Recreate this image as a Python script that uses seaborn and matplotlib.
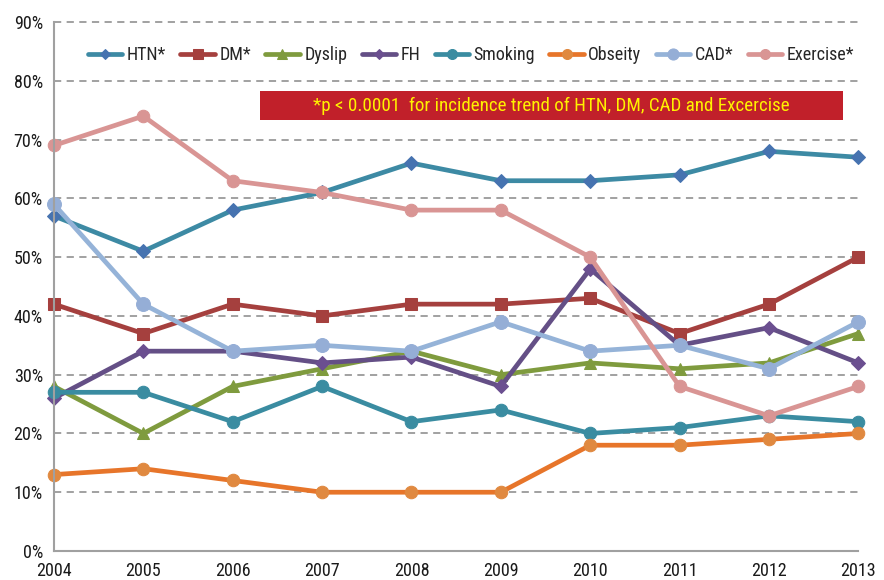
import matplotlib
matplotlib.use("Agg")
import matplotlib.pyplot as plt
import seaborn as sns
import pandas as pd
from matplotlib.patches import Rectangle
from matplotlib import font_manager

years = [2004, 2005, 2006, 2007, 2008, 2009, 2010, 2011, 2012, 2013]
htn = [57, 51, 58, 61, 66, 63, 63, 64, 68, 67]
dm = [42, 37, 42, 40, 42, 42, 43, 37, 42, 50]
dyslip = [28, 20, 28, 31, 34, 30, 32, 31, 32, 37]
fh = [26, 34, 34, 32, 33, 28, 48, 35, 38, 32]
smoking = [27, 27, 22, 28, 22, 24, 20, 21, 23, 22]
obesity = [13, 14, 12, 10, 10, 10, 18, 18, 19, 20]
cad = [59, 42, 34, 35, 34, 39, 34, 35, 31, 39]
exercise = [69, 74, 63, 61, 58, 58, 50, 28, 23, 28]
series_names = ["HTN*", "DM*", "Dyslip", "FH", "Smoking", "Obseity", "CAD*", "Exercise*"]
y_ticks = [0, 10, 20, 30, 40, 50, 60, 70, 80, 90]
note = "*p < 0.0001  for incidence trend of HTN, DM, CAD and Excercise"

sns.set_style("white")
fl = font_manager.fontManager.ttflist
names = {f.name for f in fl}
stretch = "normal"
fam = None
for cand in ["Liberation Sans Narrow", "Roboto Condensed", "Open Sans Condensed", "DejaVu Sans Condensed"]:
    if cand in names:
        fam = cand
        break
if fam is None:
    if any(f.name == "DejaVu Sans" and str(f.stretch) in ("condensed", "semi-condensed") for f in fl):
        fam = "DejaVu Sans"
        stretch = "condensed"
    else:
        fam = "Roboto"
plt.rcParams['font.family'] = [fam, 'DejaVu Sans']
plt.rcParams['font.stretch'] = stretch
fs = 13 if fam != "Roboto" else 12

values = [htn, dm, dyslip, fh, smoking, obesity, cad, exercise]
rows = []
for n, v in zip(series_names, values):
    for yr, val in zip(years, v):
        rows.append({"Year": yr, "Value": val, "Series": n})
df = pd.DataFrame(rows)

colors = ["#3D8AA4", "#A5403E", "#7F9B3E", "#644F86", "#3A8CA1", "#E7752A", "#95B3D8", "#D99594"]
mcolors = ["#4673B0", "#A5403E", "#7F9B3E", "#6B4F90", "#3A8CA1", "#E08940", "#95AED6", "#D99594"]
markers = ["D", "s", "^", "D", "o", "o", "o", "o"]
msizes = [7, 9, 9, 7, 9, 9, 10, 9]

fig = plt.figure(figsize=(8.84, 5.8), dpi=100)
ax = fig.add_axes([0.061, 0.05, 0.91, 0.912])

for i, n in enumerate(series_names):
    sub = df[df["Series"] == n]
    sns.lineplot(data=sub, x="Year", y="Value", ax=ax, color=colors[i], linewidth=3.4,
                 marker=markers[i], markersize=msizes[i], markerfacecolor=mcolors[i],
                 markeredgecolor=mcolors[i], label=n, zorder=3 + i * 0.1)

ax.set_xlim(2004, 2013)
ax.set_ylim(0, 90)
ax.set_xticks(years)
ax.set_xticklabels([str(y) for y in years], fontsize=fs)
ax.set_yticks(y_ticks)
ax.set_yticklabels([f"{t}%" for t in y_ticks], fontsize=fs)
ax.set_xlabel("")
ax.set_ylabel("")
for t in y_ticks[1:]:
    ax.axhline(t, color="#9A9A9A", linestyle=(0, (4, 3)), linewidth=1.3, zorder=1)
for s in ["top", "right"]:
    ax.spines[s].set_visible(False)
for s in ["left", "bottom"]:
    ax.spines[s].set_color("#A0A0A0")
    ax.spines[s].set_linewidth(1.5)
ax.tick_params(axis="both", direction="out", length=6, color="#A0A0A0", width=1.2, pad=2,
               labelcolor="#1A1A1A")
for sp in ax.spines.values():
    sp.set_zorder(10)
for line in ax.lines:
    line.set_clip_on(False)

leg = ax.legend(loc="upper right", bbox_to_anchor=(1.008, 0.975), ncol=8, frameon=False,
                fontsize=fs, handlelength=1.9, columnspacing=0.8, handletextpad=0.25,
                markerscale=0.8, borderaxespad=0.2)

rect = Rectangle((260 / 884, 1 - 120 / 580), (843 - 260) / 884, 29 / 580,
                 transform=fig.transFigure, facecolor="#C1202A", edgecolor="none", zorder=5)
fig.patches.append(rect)
fig.text((260 + 843) / 2 / 884, 1 - 105.5 / 580, note, color="#FFF200", fontsize=fs + 0.7,
         ha="center", va="center", zorder=6)

fig.savefig("out.png", dpi=100)
